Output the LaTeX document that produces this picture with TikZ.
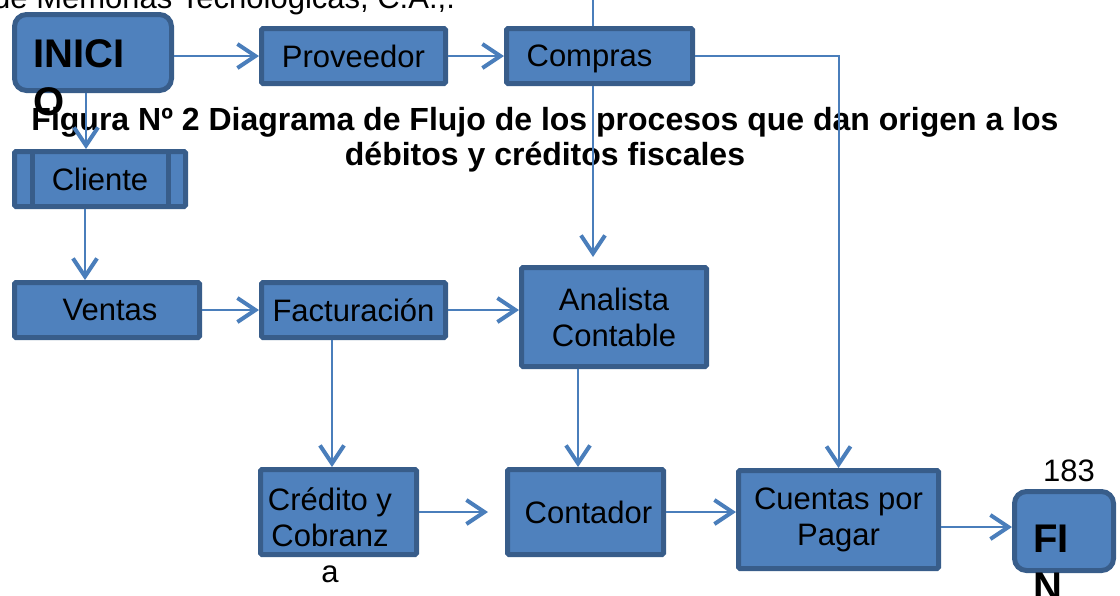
\documentclass[tikz,border=0pt]{standalone}
\usepackage{fontspec}
\setmainfont{Liberation Sans}
\usepackage{xcolor}
\definecolor{boxFill}  {HTML}{4F81BD}
\definecolor{boxLine}  {HTML}{385D8A}
\definecolor{flowLine} {HTML}{4A7EBB}
\usetikzlibrary{arrows.meta, positioning, calc}
\tikzset{
    procbox/.style={rectangle, draw=boxLine, fill=boxFill, line width=5pt,
                    rounded corners=1.5pt, inner sep=0pt, align=center,
                    font=\fontsize{31}{36}\selectfont},
    termbox/.style={procbox, rounded corners=12pt},
    flow/.style={-{Straight Barb[length=18pt, width=24pt, line width=4pt]},
                 draw=flowLine, line width=2pt},
    fline/.style={-, draw=flowLine, line width=2pt},
}

\begin{document}
\begin{tikzpicture}[
    x=1pt, y=-1pt,
    txt/.style={inner sep=0pt, font=\fontsize{31}{36}\selectfont},
    bigtxt/.style={inner sep=0pt, align=left,
                   font=\fontsize{40}{48}\selectfont\bfseries},
]
\useasboundingbox (0,0) rectangle (1120,595);

% --- caption text (cut at the top edge) and title ---
\node[txt, anchor=base west] (cap-top) at (-7,8)
    {de Memorias Tecnológicas, C.A.,.};
\node[txt, anchor=base, align=center,
      font=\fontsize{32}{35}\selectfont\bfseries] (title) at (545,165)
    {Figura Nº 2 Diagrama de Flujo de los procesos que dan origen a los\\
     débitos y créditos fiscales};

% --- boxes ---
\node[termbox, minimum width=157, minimum height=76] (inicio) at (93,52.5) {};
\node[bigtxt, anchor=base west] (inicio-txt) at (33,115) {INICI\\O};
\node[procbox, minimum width=184, minimum height=55] (proveedor) at (353.5,56) {Proveedor};
\node[procbox, minimum width=186, minimum height=55, text depth=0pt] (compras) at (599.5,56) {Compras\hspace*{20pt}};
\node[procbox, minimum width=171, minimum height=55] (cliente) at (100,179) {Cliente};
\draw[boxLine, line width=5pt] ([xshift=20.5]cliente.north west) -- ([xshift=20.5]cliente.south west);
\draw[boxLine, line width=5pt] ([xshift=-19.5]cliente.north east) -- ([xshift=-19.5]cliente.south east);
\node[procbox, minimum width=185, minimum height=55] (ventas) at (107,310) {\hspace{6pt}Ventas};
\node[procbox, minimum width=184, minimum height=55] (facturacion) at (353.5,310) {Facturación};
\node[procbox, minimum width=185, minimum height=99] (analista) at (614,317) {Analista\\Contable};
\node[procbox, minimum width=156, minimum height=85] (credito) at (338.5,512) {};
\node[txt, anchor=base, align=center] (credito-txt) at (330,582) {Crédito y\\Cobranz\\a};
\node[procbox, minimum width=156, minimum height=85] (contador) at (585.5,512) {\hspace{6pt}Contador};
\node[procbox, minimum width=200, minimum height=98] (cuentas) at (838.5,519.5) {Cuentas por\\Pagar};
\node[termbox, minimum width=99, minimum height=79] (fin) at (1064,531) {};
\node[bigtxt, anchor=base west] (fin-txt) at (1033,600) {FI\\N};
\node[txt, anchor=base] (pagina) at (1069,481) {183};

% --- connectors ---
\coordinate (src-top) at (593,0);
\draw[fline] (src-top) -- (src-top |- compras.north);
\draw[flow, shorten >=8pt] (src-top |- compras.south) -- (src-top |- analista.north);
\draw[flow] (inicio.east |- proveedor.west) -- (proveedor.west);
\draw[flow] (proveedor.east) -- (compras.west);
\draw[flow] ([xshift=-7]inicio.south) -- ([xshift=-7]inicio.south |- cliente.north);
\draw[flow] ([xshift=-15]cliente.south) -- ([xshift=-15]cliente.south |- ventas.north);
\draw[flow] (ventas.east) -- (facturacion.west);
\draw[flow] (facturacion.east) -- (facturacion.east -| analista.west);
\draw[flow] ([xshift=-21.5]facturacion.south) -- ([xshift=-21.5]facturacion.south |- credito.north);
\draw[flow] ([xshift=-36]analista.south) -- ([xshift=-36]analista.south |- contador.north);
\draw[flow] (compras.east) -| (cuentas.north);
\draw[flow, shorten >=17pt] (credito.east) -- (contador.west);
\draw[flow] (contador.east) -- (contador.east -| cuentas.west);
\draw[flow] ([yshift=-7.5]cuentas.east) -- ([yshift=-7.5]cuentas.east -| fin.west);
\end{tikzpicture}
\end{document}
